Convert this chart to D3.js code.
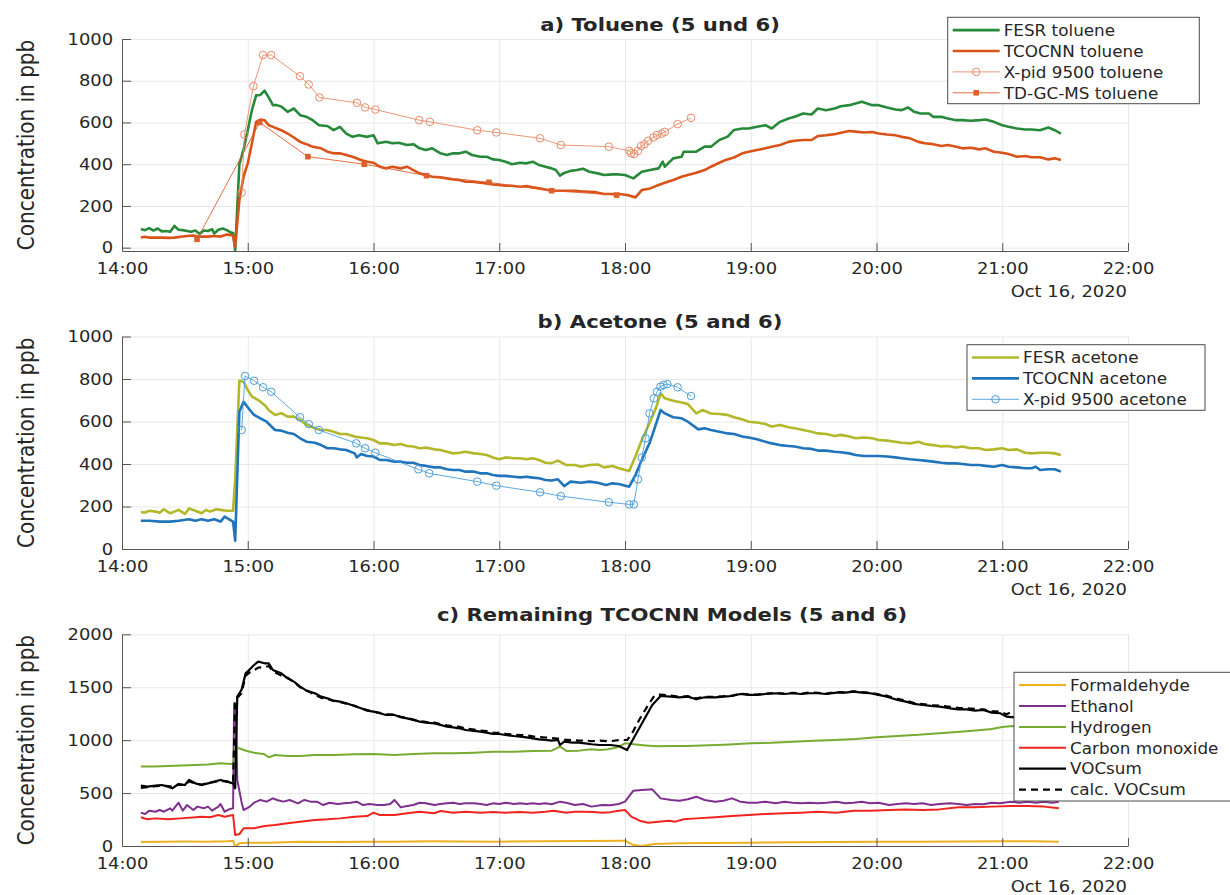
<!DOCTYPE html>
<html>
<head>
<meta charset="utf-8">
<script src="https://cdn.jsdelivr.net/npm/d3@7"></script>
<style>
    body { margin: 0; background: #fff; }
    svg text { font-family: "DejaVu Sans", Verdana, sans-serif; fill: #262626; }
</style>
</head>
<body>
<svg id="chart" width="1230" height="895"></svg>
<script>
'use strict';

// ---- data (time of day on Oct 16, 2020, value in ppb) ----
const fesrToluene = [
    ['14:09', 90], ['14:11', 84], ['14:13', 94], ['14:15', 82], ['14:17', 92], ['14:19', 78], ['14:21', 80],
    ['14:23', 76], ['14:25', 104], ['14:27', 86], ['14:29', 84], ['14:31', 80], ['14:33', 76], ['14:35', 82],
    ['14:37', 66], ['14:39', 82], ['14:41', 80], ['14:43', 88], ['14:44', 68], ['14:46', 86], ['14:48', 92],
    ['14:50', 84], ['14:52', 72], ['14:53', 70], ['14:54', -14], ['14:56', 400], ['14:58', 470], ['15:00', 563],
    ['15:02', 660], ['15:04', 730], ['15:06', 732], ['15:08', 752], ['15:10', 720], ['15:12', 683], ['15:14', 683],
    ['15:16', 676], ['15:19', 651], ['15:22', 667], ['15:25', 635], ['15:28', 627], ['15:31', 611], ['15:34', 587],
    ['15:38', 583], ['15:41', 563], ['15:44', 579], ['15:47', 547], ['15:50', 531], ['15:53', 539], ['15:57', 531],
    ['16:00', 539], ['16:02', 500], ['16:06', 508], ['16:09', 500], ['16:12', 503], ['16:16', 492], ['16:19', 496],
    ['16:22', 476], ['16:25', 468], ['16:28', 476], ['16:32', 452], ['16:35', 444], ['16:38', 452], ['16:41', 452],
    ['16:44', 460], ['16:47', 444], ['16:51', 436], ['16:54', 436], ['16:57', 423], ['17:00', 420], ['17:03', 412],
    ['17:06', 400], ['17:10', 407], ['17:13', 404], ['17:16', 412], ['17:19', 396], ['17:22', 388], ['17:25', 380],
    ['17:27', 372], ['17:29', 345], ['17:31', 358], ['17:34', 368], ['17:37', 372], ['17:40', 378], ['17:43', 364],
    ['17:47', 356], ['17:50', 348], ['17:54', 351], ['17:57', 351], ['18:00', 348], ['18:04', 332], ['18:08', 364],
    ['18:12', 372], ['18:16', 380], ['18:18', 412], ['18:19', 388], ['18:23', 428], ['18:27', 436], ['18:28', 460],
    ['18:34', 460], ['18:38', 484], ['18:41', 484], ['18:45', 516], ['18:49', 532], ['18:52', 564], ['18:56', 571],
    ['18:59', 571], ['19:03', 579], ['19:07', 587], ['19:10', 571], ['19:14', 603], ['19:18', 619], ['19:21', 627],
    ['19:25', 643], ['19:29', 638], ['19:32', 667], ['19:36', 659], ['19:40', 667], ['19:43', 678], ['19:47', 683],
    ['19:50', 691], ['19:53', 699], ['19:58', 683], ['20:01', 683], ['20:05', 672], ['20:09', 662], ['20:12', 659],
    ['20:15', 672], ['20:18', 651], ['20:21', 643], ['20:25', 643], ['20:27', 627], ['20:31', 627], ['20:34', 619],
    ['20:38', 611], ['20:41', 611], ['20:45', 608], ['20:49', 611], ['20:52', 614], ['20:56', 603], ['21:00', 587],
    ['21:03', 579], ['21:07', 571], ['21:11', 566], ['21:14', 566], ['21:18', 563], ['21:22', 576], ['21:25', 563],
    ['21:28', 547]
];

const tcocnnToluene = [
    ['14:09', 49], ['14:11', 52], ['14:13', 48], ['14:16', 48], ['14:19', 48], ['14:22', 47], ['14:25', 48],
    ['14:28', 52], ['14:31', 56], ['14:34', 58], ['14:36', 55], ['14:38', 53], ['14:41', 53], ['14:44', 56],
    ['14:47', 53], ['14:50', 63], ['14:52', 60], ['14:53', 58], ['14:54', 5], ['14:56', 228], ['14:58', 340],
    ['15:00', 404], ['15:02', 500], ['15:04', 603], ['15:06', 614], ['15:08', 611], ['15:10', 587], ['15:12', 579],
    ['15:16', 563], ['15:19', 547], ['15:22', 528], ['15:25', 507], ['15:28', 496], ['15:31', 484], ['15:35', 476],
    ['15:38', 460], ['15:41', 452], ['15:44', 452], ['15:47', 444], ['15:50', 436], ['15:54', 420], ['15:57', 412],
    ['16:00', 407], ['16:03', 388], ['16:06', 380], ['16:09', 388], ['16:13', 380], ['16:16', 388], ['16:19', 372],
    ['16:22', 356], ['16:25', 348], ['16:28', 340], ['16:32', 337], ['16:35', 332], ['16:38', 327], ['16:41', 324],
    ['16:44', 316], ['16:47', 316], ['16:51', 311], ['16:54', 308], ['16:57', 303], ['17:00', 300], ['17:03', 297],
    ['17:06', 297], ['17:10', 292], ['17:13', 295], ['17:16', 289], ['17:19', 284], ['17:22', 279], ['17:25', 273],
    ['17:29', 273], ['17:32', 273], ['17:36', 273], ['17:39', 270], ['17:43', 268], ['17:46', 266], ['17:50', 257],
    ['17:54', 257], ['17:57', 257], ['18:01', 252], ['18:05', 241], ['18:08', 276], ['18:12', 284], ['18:16', 300],
    ['18:19', 311], ['18:23', 324], ['18:27', 340], ['18:30', 348], ['18:34', 359], ['18:38', 372], ['18:41', 388],
    ['18:45', 407], ['18:48', 420], ['18:52', 432], ['18:56', 452], ['18:59', 460], ['19:03', 468], ['19:07', 476],
    ['19:10', 484], ['19:14', 492], ['19:18', 507], ['19:21', 512], ['19:25', 516], ['19:29', 516], ['19:32', 535],
    ['19:36', 539], ['19:40', 544], ['19:43', 551], ['19:47', 559], ['19:50', 556], ['19:54', 552], ['19:58', 554],
    ['20:01', 547], ['20:05', 542], ['20:09', 539], ['20:12', 531], ['20:16', 524], ['20:20', 507], ['20:23', 500],
    ['20:27', 496], ['20:31', 487], ['20:34', 492], ['20:38', 484], ['20:41', 476], ['20:45', 479], ['20:49', 471],
    ['20:52', 476], ['20:56', 460], ['21:00', 455], ['21:03', 449], ['21:07', 436], ['21:11', 439], ['21:14', 433],
    ['21:18', 433], ['21:22', 423], ['21:25', 428], ['21:28', 420]
];

const xpidToluene = [
    ['14:57:06', 263], ['14:58:24', 543], ['15:02:42', 774], ['15:07:18', 923], ['15:11:12', 923],
    ['15:24:54', 822], ['15:29:06', 782], ['15:34:12', 720], ['15:52:06', 694], ['15:56:00', 672],
    ['16:00:54', 662], ['16:21:48', 611], ['16:26:54', 603], ['16:49:30', 563], ['16:58:36', 552],
    ['17:19:30', 524], ['17:29:24', 492], ['17:52:18', 484], ['18:02:00', 464], ['18:02:54', 452],
    ['18:04:24', 449], ['18:06:12', 464], ['18:07:42', 487], ['18:09:18', 496], ['18:11:06', 512],
    ['18:13:30', 528], ['18:15:18', 540], ['18:17:30', 547], ['18:19:00', 555], ['18:25:06', 592],
    ['18:31:30', 622]
];

const tdgcmsToluene = [
    ['14:35:48', 40], ['15:05:42', 600], ['15:28:42', 436], ['15:55:36', 400],
    ['16:25:18', 345], ['16:55:06', 313], ['17:25:00', 273], ['17:56:00', 252]
];

const fesrAcetone = [
    ['14:09', 173], ['14:11', 172], ['14:13', 180], ['14:16', 176], ['14:18', 171], ['14:20', 187], ['14:23', 168],
    ['14:25', 176], ['14:27', 184], ['14:30', 165], ['14:32', 191], ['14:35', 180], ['14:38', 168], ['14:40', 184],
    ['14:42', 176], ['14:45', 187], ['14:47', 184], ['14:50', 180], ['14:53', 180], ['14:54', 325], ['14:56', 792],
    ['14:58', 787], ['15:00', 748], ['15:02', 717], ['15:05', 701], ['15:08', 678], ['15:10', 654], ['15:13', 631],
    ['15:16', 639], ['15:19', 623], ['15:22', 623], ['15:25', 607], ['15:28', 584], ['15:32', 568], ['15:35', 560],
    ['15:38', 560], ['15:41', 552], ['15:44', 541], ['15:47', 541], ['15:51', 529], ['15:54', 525], ['15:57', 521],
    ['16:00', 513], ['16:03', 497], ['16:06', 497], ['16:10', 489], ['16:13', 494], ['16:16', 485], ['16:19', 482],
    ['16:22', 474], ['16:25', 477], ['16:29', 469], ['16:32', 466], ['16:35', 458], ['16:38', 450], ['16:41', 453],
    ['16:44', 458], ['16:48', 450], ['16:51', 447], ['16:54', 442], ['16:57', 431], ['17:00', 422], ['17:03', 431],
    ['17:07', 427], ['17:10', 427], ['17:13', 422], ['17:16', 427], ['17:19', 419], ['17:22', 406], ['17:25', 404],
    ['17:28', 416], ['17:32', 395], ['17:36', 395], ['17:39', 387], ['17:43', 395], ['17:47', 398], ['17:50', 384],
    ['17:54', 391], ['17:57', 380], ['18:02', 367], ['18:05', 435], ['18:08', 513], ['18:12', 599], ['18:15', 670],
    ['18:17', 733], ['18:19', 709], ['18:23', 698], ['18:27', 689], ['18:30', 682], ['18:34', 638], ['18:37', 654],
    ['18:41', 638], ['18:45', 635], ['18:49', 631], ['18:52', 620], ['18:56', 610], ['18:59', 599], ['19:03', 595],
    ['19:07', 588], ['19:10', 576], ['19:14', 584], ['19:18', 573], ['19:21', 568], ['19:25', 560], ['19:29', 552],
    ['19:32', 544], ['19:36', 541], ['19:40', 532], ['19:43', 537], ['19:47', 529], ['19:50', 521], ['19:54', 525],
    ['19:58', 521], ['20:01', 513], ['20:05', 510], ['20:09', 505], ['20:12', 500], ['20:16', 497], ['20:20', 505],
    ['20:23', 494], ['20:27', 489], ['20:31', 482], ['20:34', 485], ['20:38', 478], ['20:41', 482], ['20:45', 474],
    ['20:49', 474], ['20:52', 466], ['20:56', 469], ['21:00', 474], ['21:03', 466], ['21:07', 469], ['21:11', 453],
    ['21:14', 450], ['21:18', 453], ['21:22', 453], ['21:25', 450], ['21:28', 442]
];

const tcocnnAcetone = [
    ['14:09', 133], ['14:13', 133], ['14:18', 129], ['14:23', 129], ['14:27', 133], ['14:32', 140], ['14:35', 133],
    ['14:38', 140], ['14:41', 133], ['14:44', 140], ['14:47', 129], ['14:49', 152], ['14:51', 140], ['14:53', 129],
    ['14:54', 39], ['14:56', 646], ['14:58', 693], ['15:01', 654], ['15:03', 631], ['15:06', 615], ['15:09', 599],
    ['15:13', 560], ['15:16', 557], ['15:19', 547], ['15:22', 541], ['15:25', 521], ['15:28', 505], ['15:32', 500],
    ['15:35', 489], ['15:38', 474], ['15:41', 474], ['15:44', 469], ['15:47', 466], ['15:51', 450], ['15:52', 431],
    ['15:54', 447], ['15:57', 438], ['16:00', 435], ['16:03', 419], ['16:06', 419], ['16:10', 411], ['16:13', 411],
    ['16:16', 406], ['16:19', 406], ['16:22', 395], ['16:25', 391], ['16:29', 384], ['16:32', 384], ['16:35', 375],
    ['16:38', 372], ['16:41', 372], ['16:44', 364], ['16:48', 364], ['16:51', 356], ['16:54', 356], ['16:57', 348],
    ['17:00', 344], ['17:03', 344], ['17:07', 340], ['17:10', 337], ['17:13', 340], ['17:16', 336], ['17:19', 333],
    ['17:22', 325], ['17:25', 322], ['17:28', 328], ['17:31', 296], ['17:34', 317], ['17:39', 312], ['17:43', 317],
    ['17:47', 312], ['17:51', 301], ['17:54', 309], ['17:57', 306], ['18:02', 293], ['18:05', 348], ['18:08', 419],
    ['18:12', 505], ['18:17', 654], ['18:19', 638], ['18:23', 620], ['18:27', 615], ['18:30', 599], ['18:35', 563],
    ['18:38', 568], ['18:41', 560], ['18:45', 552], ['18:49', 544], ['18:52', 541], ['18:56', 529], ['18:59', 525],
    ['19:03', 516], ['19:07', 505], ['19:10', 497], ['19:14', 489], ['19:18', 485], ['19:21', 482], ['19:25', 474],
    ['19:29', 471], ['19:32', 463], ['19:36', 463], ['19:40', 458], ['19:43', 455], ['19:47', 450], ['19:50', 442],
    ['19:54', 438], ['19:58', 438], ['20:01', 438], ['20:05', 435], ['20:09', 431], ['20:12', 427], ['20:16', 422],
    ['20:20', 419], ['20:23', 416], ['20:27', 411], ['20:31', 406], ['20:34', 403], ['20:38', 403], ['20:41', 400],
    ['20:45', 395], ['20:49', 395], ['20:52', 391], ['20:56', 387], ['21:00', 395], ['21:03', 387], ['21:07', 384],
    ['21:11', 380], ['21:14', 380], ['21:16', 387], ['21:18', 372], ['21:22', 375], ['21:25', 375], ['21:28', 364]
];

const xpidAcetone = [
    ['14:57:06', 560], ['14:58:42', 814], ['15:03:00', 792], ['15:07:18', 761], ['15:11:12', 740],
    ['15:24:54', 620], ['15:29:06', 588], ['15:33:54', 560], ['15:51:48', 497], ['15:56:00', 474],
    ['16:00:54', 453], ['16:21:24', 375], ['16:26:36', 356], ['16:49:30', 317], ['16:58:36', 298],
    ['17:19:30', 267], ['17:29:24', 249], ['17:52:18', 220], ['18:02:00', 210], ['18:04:12', 210],
    ['18:06:12', 328], ['18:08:00', 430], ['18:09:48', 521], ['18:11:42', 638], ['18:13:48', 709],
    ['18:15:18', 740], ['18:16:54', 764], ['18:18:24', 772], ['18:20:12', 776], ['18:25:06', 761],
    ['18:31:30', 720]
];

const formaldehyde = [
    ['14:09', 38], ['14:20', 40], ['14:30', 42], ['14:40', 41], ['14:50', 45], ['14:53', 50], ['14:54', -6],
    ['14:56', 25], ['15:00', 31], ['15:10', 31], ['15:25', 41], ['15:40', 38], ['15:57', 41], ['16:10', 40],
    ['16:28', 44], ['16:40', 42], ['17:00', 41], ['17:20', 45], ['17:40', 48], ['18:00', 50], ['18:04', 9],
    ['18:08', 0], ['18:14', 19], ['18:26', 25], ['18:40', 28], ['19:00', 31], ['19:20', 35], ['19:40', 38],
    ['20:00', 41], ['20:20', 40], ['20:40', 42], ['21:00', 44], ['21:15', 45], ['21:27', 41]
];

const ethanol = [
    ['14:09', 315], ['14:11', 302], ['14:13', 334], ['14:16', 324], ['14:18', 340], ['14:20', 324], ['14:23', 356],
    ['14:24', 334], ['14:27', 409], ['14:29', 334], ['14:31', 387], ['14:34', 340], ['14:36', 372], ['14:39', 356],
    ['14:41', 372], ['14:43', 334], ['14:46', 372], ['14:47', 397], ['14:49', 324], ['14:51', 346], ['14:53', 356],
    ['14:53:30', 1348], ['14:54:20', 1317], ['14:55', 624], ['14:57', 419], ['14:58', 340], ['15:01', 372],
    ['15:03', 409], ['15:06', 435], ['15:09', 419], ['15:12', 450], ['15:14', 435], ['15:17', 419], ['15:20', 435],
    ['15:24', 403], ['15:27', 435], ['15:30', 419], ['15:33', 419], ['15:36', 387], ['15:39', 409], ['15:43', 397],
    ['15:46', 403], ['15:49', 409], ['15:52', 419], ['15:55', 387], ['15:58', 397], ['16:02', 387], ['16:05', 387],
    ['16:08', 397], ['16:10', 435], ['16:13', 365], ['16:16', 378], ['16:19', 387], ['16:22', 409], ['16:25', 403],
    ['16:29', 387], ['16:32', 397], ['16:35', 403], ['16:38', 409], ['16:41', 397], ['16:44', 403], ['16:48', 403],
    ['16:51', 397], ['16:54', 387], ['16:57', 403], ['17:00', 397], ['17:03', 409], ['17:07', 397], ['17:10', 403],
    ['17:13', 397], ['17:16', 403], ['17:19', 397], ['17:22', 403], ['17:25', 395], ['17:29', 419], ['17:32', 409],
    ['17:36', 387], ['17:40', 397], ['17:44', 372], ['17:49', 387], ['17:53', 384], ['17:57', 397], ['18:00', 419],
    ['18:04', 523], ['18:08', 529], ['18:13', 535], ['18:17', 450], ['18:22', 435], ['18:26', 428], ['18:30', 441],
    ['18:34', 466], ['18:38', 435], ['18:43', 419], ['18:47', 428], ['18:51', 450], ['18:55', 419], ['18:59', 409],
    ['19:03', 409], ['19:07', 419], ['19:12', 403], ['19:16', 419], ['19:20', 409], ['19:24', 403], ['19:28', 409],
    ['19:32', 403], ['19:36', 409], ['19:41', 419], ['19:45', 403], ['19:49', 409], ['19:53', 419], ['19:57', 403],
    ['20:01', 409], ['20:06', 387], ['20:10', 397], ['20:14', 403], ['20:18', 397], ['20:22', 403], ['20:26', 387],
    ['20:30', 397], ['20:35', 403], ['20:39', 397], ['20:43', 387], ['20:47', 397], ['20:51', 394], ['20:55', 409],
    ['20:59', 403], ['21:04', 419], ['21:08', 409], ['21:12', 419], ['21:16', 409], ['21:20', 419], ['21:24', 409],
    ['21:27', 419]
];

const hydrogen = [
    ['14:09', 750], ['14:15', 752], ['14:22', 756], ['14:28', 760], ['14:35', 765], ['14:41', 770], ['14:47', 781],
    ['14:50', 778], ['14:53', 775], ['14:54', 923], ['14:56', 923], ['14:58', 907], ['15:01', 891], ['15:03', 882],
    ['15:08', 866], ['15:10', 838], ['15:13', 860], ['15:19', 850], ['15:25', 850], ['15:32', 860], ['15:41', 860],
    ['15:51', 866], ['16:00', 869], ['16:10', 860], ['16:19', 869], ['16:29', 876], ['16:38', 876], ['16:48', 882],
    ['16:57', 891], ['17:07', 891], ['17:16', 898], ['17:25', 901], ['17:29', 939], ['17:32', 898], ['17:38', 901],
    ['17:44', 913], ['17:48', 907], ['17:52', 915], ['17:56', 930], ['18:00', 970], ['18:05', 960], ['18:10', 950],
    ['18:15', 942], ['18:22', 945], ['18:30', 945], ['18:40', 952], ['18:50', 960], ['19:00', 970], ['19:10', 975],
    ['19:20', 985], ['19:30', 995], ['19:40', 1002], ['19:50', 1010], ['20:00', 1027], ['20:10', 1040],
    ['20:20', 1050], ['20:30', 1065], ['20:40', 1080], ['20:50', 1096], ['20:55', 1105], ['21:00', 1125],
    ['21:05', 1134], ['21:10', 1128], ['21:20', 1130], ['21:28', 1132]
];

const carbonMonoxide = [
    ['14:09', 271], ['14:12', 252], ['14:16', 261], ['14:22', 252], ['14:28', 261], ['14:35', 271], ['14:38', 277],
    ['14:42', 271], ['14:46', 293], ['14:49', 277], ['14:53', 293], ['14:54', 104], ['14:56', 113], ['14:58', 167],
    ['15:03', 167], ['15:08', 189], ['15:13', 198], ['15:19', 214], ['15:25', 230], ['15:32', 246], ['15:38', 252],
    ['15:44', 261], ['15:51', 277], ['15:57', 283], ['16:00', 315], ['16:03', 293], ['16:10', 293], ['16:16', 309],
    ['16:22', 324], ['16:29', 309], ['16:32', 331], ['16:38', 315], ['16:44', 324], ['16:51', 315], ['16:57', 321],
    ['17:03', 315], ['17:10', 321], ['17:16', 315], ['17:22', 324], ['17:26', 334], ['17:32', 315], ['17:36', 324],
    ['17:40', 324], ['17:45', 321], ['17:49', 315], ['17:53', 320], ['17:57', 334], ['18:00', 340], ['18:03', 277],
    ['18:07', 239], ['18:11', 220], ['18:16', 230], ['18:21', 239], ['18:24', 230], ['18:28', 252], ['18:34', 261],
    ['18:43', 271], ['18:51', 283], ['18:59', 293], ['19:07', 302], ['19:16', 309], ['19:24', 315], ['19:32', 324],
    ['19:41', 315], ['19:49', 334], ['19:57', 334], ['20:06', 340], ['20:14', 346], ['20:22', 340], ['20:30', 346],
    ['20:39', 365], ['20:47', 365], ['20:55', 372], ['21:04', 378], ['21:12', 378], ['21:20', 372], ['21:27', 356]
];

const vocSum = [
    ['14:09', 570], ['14:12', 561], ['14:16', 570], ['14:19', 576], ['14:22', 561], ['14:24', 545], ['14:27', 586],
    ['14:30', 576], ['14:32', 624], ['14:35', 592], ['14:38', 576], ['14:41', 592], ['14:44', 608], ['14:47', 624],
    ['14:50', 608], ['14:53', 592], ['14:54', 545], ['14:55', 1411], ['14:57', 1474], ['14:59', 1631], ['15:01', 1669],
    ['15:03', 1710], ['15:05', 1742], ['15:08', 1726], ['15:10', 1726], ['15:12', 1663], ['15:16', 1631],
    ['15:19', 1584], ['15:22', 1553], ['15:25', 1506], ['15:28', 1468], ['15:32', 1443], ['15:35', 1411],
    ['15:38', 1395], ['15:41', 1373], ['15:44', 1364], ['15:47', 1348], ['15:51', 1323], ['15:54', 1301],
    ['15:57', 1279], ['16:00', 1269], ['16:03', 1254], ['16:06', 1238], ['16:10', 1238], ['16:13', 1216],
    ['16:16', 1206], ['16:19', 1191], ['16:22', 1175], ['16:25', 1165], ['16:29', 1159], ['16:32', 1143],
    ['16:35', 1128], ['16:38', 1121], ['16:41', 1112], ['16:44', 1096], ['16:48', 1087], ['16:51', 1080],
    ['16:54', 1071], ['16:57', 1058], ['17:00', 1058], ['17:03', 1049], ['17:07', 1039], ['17:10', 1033],
    ['17:13', 1027], ['17:16', 1017], ['17:19', 1008], ['17:22', 1002], ['17:25', 995], ['17:28', 1002],
    ['17:29', 954], ['17:31', 986], ['17:35', 976], ['17:38', 976], ['17:41', 970], ['17:44', 961], ['17:48', 954],
    ['17:53', 954], ['17:57', 945], ['18:01', 907], ['18:05', 1049], ['18:09', 1191], ['18:13', 1332],
    ['18:17', 1417], ['18:22', 1411], ['18:26', 1405], ['18:30', 1411], ['18:34', 1386], ['18:38', 1405],
    ['18:43', 1405], ['18:47', 1411], ['18:51', 1417], ['18:55', 1436], ['18:59', 1427], ['19:03', 1427],
    ['19:07', 1436], ['19:12', 1443], ['19:16', 1436], ['19:20', 1443], ['19:24', 1436], ['19:28', 1443],
    ['19:32', 1443], ['19:36', 1436], ['19:41', 1449], ['19:45', 1449], ['19:49', 1458], ['19:53', 1449],
    ['19:57', 1443], ['20:01', 1427], ['20:05', 1411], ['20:10', 1380], ['20:14', 1364], ['20:18', 1342],
    ['20:22', 1332], ['20:26', 1323], ['20:30', 1317], ['20:35', 1301], ['20:39', 1291], ['20:43', 1291],
    ['20:47', 1279], ['20:51', 1285], ['20:55', 1260], ['20:59', 1254], ['21:02', 1222], ['21:06', 1215],
    ['21:10', 1230], ['21:14', 1245], ['21:18', 1250], ['21:22', 1260], ['21:26', 1265], ['21:28', 1270]
];

const calcVocSum = [
    ['14:09', 550], ['14:12', 555], ['14:16', 565], ['14:19', 570], ['14:22', 565], ['14:24', 560], ['14:27', 580],
    ['14:30', 575], ['14:32', 610], ['14:35', 590], ['14:38', 580], ['14:41', 595], ['14:44', 605], ['14:47', 615],
    ['14:50', 610], ['14:53', 600], ['14:54', 1380], ['14:55', 1400], ['14:57', 1440], ['14:59', 1610],
    ['15:01', 1640], ['15:03', 1660], ['15:05', 1685], ['15:08', 1690], ['15:10', 1700], ['15:12', 1650],
    ['15:16', 1610], ['15:19', 1590], ['15:22', 1550], ['15:25', 1500], ['15:28', 1470], ['15:32', 1430],
    ['15:35', 1400], ['15:38', 1390], ['15:41', 1370], ['15:44', 1360], ['15:47', 1345], ['15:51', 1325],
    ['15:54', 1300], ['15:57', 1285], ['16:00', 1270], ['16:03', 1258], ['16:06', 1245], ['16:10', 1240],
    ['16:13', 1220], ['16:16', 1210], ['16:19', 1195], ['16:22', 1180], ['16:25', 1172], ['16:29', 1165],
    ['16:32', 1150], ['16:35', 1140], ['16:38', 1132], ['16:41', 1125], ['16:44', 1110], ['16:48', 1100],
    ['16:51', 1090], ['16:54', 1085], ['16:57', 1072], ['17:00', 1070], ['17:03', 1060], ['17:07', 1052],
    ['17:10', 1048], ['17:13', 1045], ['17:16', 1035], ['17:19', 1030], ['17:22', 1025], ['17:25', 1020],
    ['17:28', 1015], ['17:31', 1005], ['17:35', 1000], ['17:38', 995], ['17:41', 998], ['17:44', 990],
    ['17:48', 995], ['17:53', 990], ['17:57', 1000], ['18:01', 1002], ['18:03', 1050], ['18:07', 1200],
    ['18:11', 1330], ['18:14', 1420], ['18:17', 1430], ['18:22', 1420], ['18:26', 1410], ['18:30', 1415],
    ['18:34', 1395], ['18:38', 1410], ['18:43', 1408], ['18:47', 1415], ['18:51', 1420], ['18:55', 1440],
    ['18:59', 1432], ['19:03', 1430], ['19:07', 1440], ['19:12', 1445], ['19:16', 1440], ['19:20', 1448],
    ['19:24', 1440], ['19:28', 1450], ['19:32', 1448], ['19:36', 1440], ['19:41', 1455], ['19:45', 1452],
    ['19:49', 1462], ['19:53', 1455], ['19:57', 1448], ['20:01', 1432], ['20:05', 1420], ['20:10', 1390],
    ['20:14', 1375], ['20:18', 1350], ['20:22', 1340], ['20:26', 1330], ['20:30', 1325], ['20:35', 1315],
    ['20:39', 1305], ['20:43', 1300], ['20:47', 1295], ['20:51', 1290], ['20:55', 1275], ['20:59', 1268],
    ['21:02', 1245], ['21:06', 1280], ['21:10', 1300], ['21:14', 1295], ['21:18', 1300], ['21:22', 1305],
    ['21:26', 1310], ['21:28', 1310]
];

const xTickFormat = '%H:%M';
const dateLabel = 'Oct 16, 2020';
const yLabel = 'Concentration in ppb';

// ---- layout ----
const X_LEFT = 122, X_RIGHT = 1128;
const TEXT_STRETCH = 1.12;   // the reference is a bit wider than the font renders
const TITLE_STRETCH = 1.21;
const LEGEND_STRETCH = 1.05;
const AXIS_COLOR = '#555';
const GRID_COLOR = '#e8e8e8';

const parseTime = d3.timeParse('%Y-%m-%d %H:%M:%S');
function toPoints(pairs) {
    return pairs.map(function(p) {
        let t = p[0].length === 5 ? p[0] + ':00' : p[0];
        return {t: parseTime('2020-10-16 ' + t), v: p[1]};
    });
}

const panels = [
    {
        title: 'a) Toluene (5 und 6)', titleX: 660, titleY: 30.7,
        top: 39, bottom: 251, yDomain: [-16, 1000], yTicks: [0, 200, 400, 600, 800, 1000],
        legend: {x: 947.7, y: 17.3, w: 251.6, h: 86.4},
        series: [
            {label: 'FESR toluene', data: fesrToluene, color: '#27893a', width: 2.6},
            {label: 'TCOCNN toluene', data: tcocnnToluene, color: '#d95319', width: 2.6},
            {label: 'X-pid 9500 toluene', data: xpidToluene, color: '#ea8a69', width: 0.9, marker: 'circle'},
            {label: 'TD-GC-MS toluene', data: tdgcmsToluene, color: '#de5f2c', width: 0.9, marker: 'square'}
        ]
    },
    {
        title: 'b) Acetone (5 and 6)', titleX: 660, titleY: 327.7,
        top: 336.5, bottom: 549, yDomain: [0, 1000], yTicks: [0, 200, 400, 600, 800, 1000],
        legend: {x: 967, y: 344.7, w: 238, h: 65.6},
        series: [
            {label: 'FESR acetone', data: fesrAcetone, color: '#b3b82b', width: 2.6},
            {label: 'TCOCNN acetone', data: tcocnnAcetone, color: '#1f74bb', width: 2.6},
            {label: 'X-pid 9500 acetone', data: xpidAcetone, color: '#4a9edb', width: 0.9, marker: 'circle'}
        ]
    },
    {
        title: 'c) Remaining TCOCNN Models (5 and 6)', titleX: 672, titleY: 620.7,
        top: 634.3, bottom: 846, yDomain: [0, 2000], yTicks: [0, 500, 1000, 1500, 2000],
        legend: {x: 1014, y: 672.3, w: 230, h: 128.7},
        series: [
            {label: 'Formaldehyde', data: formaldehyde, color: '#edb120', width: 2},
            {label: 'Ethanol', data: ethanol, color: '#7e2f8e', width: 2},
            {label: 'Hydrogen', data: hydrogen, color: '#77ac30', width: 2},
            {label: 'Carbon monoxide', data: carbonMonoxide, color: '#f0231e', width: 2},
            {label: 'VOCsum', data: vocSum, color: '#000', width: 2.2},
            {label: 'calc. VOCsum', data: calcVocSum, color: '#000', width: 2.2, dash: '7,5'}
        ]
    }
];

const svg = d3.select('#chart');
const x = d3.scaleTime()
    .domain([parseTime('2020-10-16 14:00:00'), parseTime('2020-10-16 22:00:00')])
    .range([X_LEFT, X_RIGHT]);

function drawMarker(sel, kind, color, cx, cy) {
    if (kind === 'circle') {
        sel.append('circle').attr('cx', cx).attr('cy', cy).attr('r', 3.8)
            .attr('fill', 'none').attr('stroke', color).attr('stroke-width', 1);
    } else if (kind === 'square') {
        sel.append('rect').attr('x', cx - 2.8).attr('y', cy - 2.8).attr('width', 5.6).attr('height', 5.6)
            .attr('fill', color);
    }
}

panels.forEach(function(p, i) {
    let y = d3.scaleLinear().domain(p.yDomain).range([p.bottom, p.top]);
    let g = svg.append('g');
    let h = p.bottom - p.top;

    // grid
    g.append('g')
        .attr('transform', `translate(0,${p.bottom})`)
        .call(d3.axisBottom(x).ticks(d3.timeHour.every(1)).tickSize(-h).tickFormat(''))
        .call(a => a.select('.domain').remove())
        .selectAll('line').attr('stroke', GRID_COLOR);
    g.append('g')
        .attr('transform', `translate(${X_LEFT},0)`)
        .call(d3.axisLeft(y).tickValues(p.yTicks).tickSize(-(X_RIGHT - X_LEFT)).tickFormat(''))
        .call(a => a.select('.domain').remove())
        .selectAll('line').attr('stroke', GRID_COLOR);

    // series
    g.append('clipPath').attr('id', 'clip' + i)
        .append('rect').attr('x', X_LEFT).attr('y', p.top).attr('width', X_RIGHT - X_LEFT).attr('height', h);
    let plot = g.append('g').attr('clip-path', `url(#clip${i})`);
    let line = d3.line().x(d => x(d.t)).y(d => y(d.v));
    p.series.forEach(function(s) {
        let pts = toPoints(s.data);
        plot.append('path').datum(pts)
            .attr('d', line)
            .attr('fill', 'none')
            .attr('stroke', s.color)
            .attr('stroke-width', s.width)
            .attr('stroke-linejoin', 'round')
            .attr('stroke-dasharray', s.dash || null);
        if (s.marker) {
            pts.forEach(d => drawMarker(plot, s.marker, s.color, x(d.t), y(d.v)));
        }
    });

    // axes
    let xAxis = g.append('g')
        .attr('transform', `translate(0,${p.bottom})`)
        .call(d3.axisBottom(x).ticks(d3.timeHour.every(1)).tickFormat(d3.timeFormat(xTickFormat))
            .tickSizeInner(-8).tickSizeOuter(0).tickPadding(10));
    let yAxis = g.append('g')
        .attr('transform', `translate(${X_LEFT},0)`)
        .call(d3.axisLeft(y).tickValues(p.yTicks).tickFormat(d3.format('d'))
            .tickSizeInner(-9).tickSizeOuter(0).tickPadding(8));
    [xAxis, yAxis].forEach(function(a) {
        a.attr('font-family', null).attr('font-size', null);
        a.selectAll('.domain, line').attr('stroke', AXIS_COLOR);
        a.selectAll('text').attr('font-size', 16).attr('fill', '#262626')
            .attr('transform', `scale(${TEXT_STRETCH},1)`);
    });
    xAxis.selectAll('text').attr('y', 23).attr('dy', 0);

    g.append('text')
        .attr('transform', `translate(1127,${p.bottom + 45.5}) scale(${TEXT_STRETCH},1)`)
        .attr('text-anchor', 'end').attr('font-size', 16)
        .text(dateLabel);

    g.append('text')
        .attr('transform', `translate(34,${(p.top + p.bottom) / 2}) scale(${TEXT_STRETCH},1) rotate(-90)`)
        .attr('text-anchor', 'middle').attr('font-size', 20)
        .text(yLabel);

    g.append('text')
        .attr('transform', `translate(${p.titleX},${p.titleY}) scale(${TITLE_STRETCH},1)`)
        .attr('text-anchor', 'middle').attr('font-size', 17.5).attr('font-weight', 'bold')
        .attr('fill', '#000')
        .text(p.title);

    // legend
    let L = p.legend;
    let lg = g.append('g');
    lg.append('rect').attr('x', L.x).attr('y', L.y).attr('width', L.w).attr('height', L.h)
        .attr('fill', '#fff').attr('stroke', '#4d4d4d').attr('stroke-width', 1);
    p.series.forEach(function(s, k) {
        let ry = L.y + 12.8 + k * 20.9;
        lg.append('line').attr('x1', L.x + 5).attr('x2', L.x + 52).attr('y1', ry).attr('y2', ry)
            .attr('stroke', s.color).attr('stroke-width', s.width)
            .attr('stroke-dasharray', s.dash || null);
        if (s.marker) drawMarker(lg, s.marker, s.color, L.x + 28.5, ry);
        lg.append('text')
            .attr('transform', `translate(${L.x + 56},${ry}) scale(${LEGEND_STRETCH},1)`)
            .attr('dy', '0.36em').attr('font-size', 16)
            .text(s.label);
    });
});
</script>
</body>
</html>
